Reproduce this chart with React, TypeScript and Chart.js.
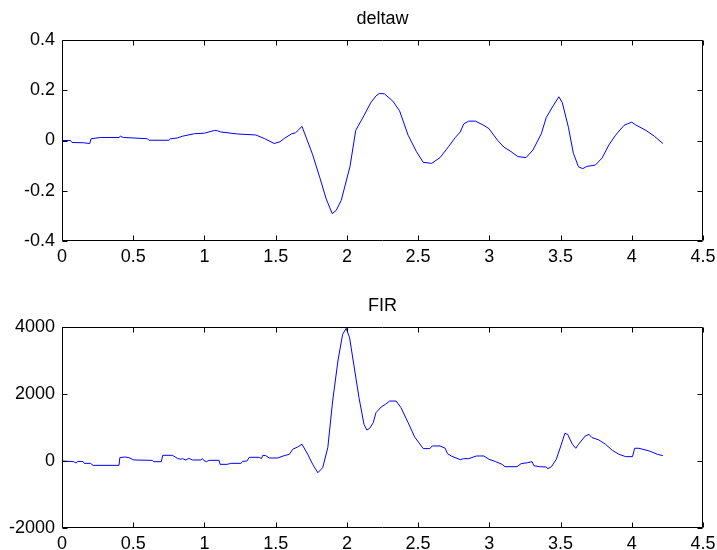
import React, { useEffect, useRef } from "react";
import { Chart, registerables } from "chart.js";

Chart.register(...registerables);

// ---- Data ----
const deltawX = [0, 0.06, 0.07, 0.15, 0.195, 0.204, 0.27, 0.4, 0.41, 0.43, 0.505, 0.6, 0.61, 0.75, 0.763, 0.81, 0.845, 0.93, 1.0, 1.07, 1.09, 1.115, 1.23, 1.36, 1.42, 1.49, 1.53, 1.56, 1.61, 1.64, 1.685, 1.76, 1.81, 1.855, 1.897, 1.925, 1.96, 2.022, 2.062, 2.12, 2.168, 2.204, 2.227, 2.263, 2.322, 2.37, 2.43, 2.488, 2.536, 2.595, 2.654, 2.713, 2.761, 2.796, 2.82, 2.855, 2.903, 2.962, 2.998, 3.057, 3.104, 3.152, 3.2, 3.258, 3.306, 3.365, 3.4, 3.448, 3.488, 3.512, 3.555, 3.59, 3.626, 3.656, 3.685, 3.744, 3.791, 3.839, 3.886, 3.945, 3.969, 4.0, 4.028, 4.1, 4.159, 4.218];
const deltawY = [0, 0, -0.008, -0.009, -0.012, 0.007, 0.012, 0.012, 0.017, 0.012, 0.01, 0.007, 0.001, 0.001, 0.007, 0.01, 0.017, 0.027, 0.029, 0.04, 0.039, 0.034, 0.026, 0.022, 0.008, -0.012, -0.005, 0.008, 0.026, 0.031, 0.056, -0.057, -0.148, -0.233, -0.291, -0.278, -0.239, -0.103, 0.04, 0.099, 0.151, 0.177, 0.187, 0.186, 0.157, 0.118, 0.021, -0.044, -0.087, -0.091, -0.068, -0.025, 0.012, 0.034, 0.066, 0.077, 0.077, 0.06, 0.047, 0.001, -0.027, -0.044, -0.064, -0.068, -0.038, 0.027, 0.092, 0.138, 0.174, 0.151, 0.053, -0.051, -0.105, -0.112, -0.103, -0.098, -0.07, -0.018, 0.021, 0.06, 0.066, 0.073, 0.062, 0.04, 0.017, -0.012];

const firX = [0, 0.082, 0.1, 0.11, 0.148, 0.157, 0.2, 0.218, 0.4, 0.406, 0.44, 0.47, 0.505, 0.634, 0.645, 0.697, 0.707, 0.775, 0.81, 0.833, 0.845, 0.87, 0.89, 0.915, 0.974, 0.986, 0.998, 1.014, 1.033, 1.103, 1.11, 1.16, 1.185, 1.256, 1.268, 1.298, 1.315, 1.385, 1.4, 1.41, 1.43, 1.455, 1.514, 1.56, 1.596, 1.62, 1.655, 1.685, 1.725, 1.76, 1.796, 1.83, 1.866, 1.9, 1.937, 1.97, 1.995, 2.019, 2.05, 2.085, 2.12, 2.14, 2.16, 2.185, 2.204, 2.24, 2.27, 2.3, 2.346, 2.38, 2.43, 2.476, 2.536, 2.583, 2.6, 2.654, 2.69, 2.706, 2.737, 2.796, 2.82, 2.855, 2.91, 2.962, 2.998, 3.045, 3.09, 3.11, 3.194, 3.223, 3.27, 3.3, 3.313, 3.353, 3.4, 3.41, 3.436, 3.47, 3.502, 3.53, 3.55, 3.583, 3.607, 3.626, 3.673, 3.7, 3.72, 3.768, 3.815, 3.863, 3.91, 3.957, 4.005, 4.02, 4.05, 4.123, 4.18, 4.218];
const firY = [0, -20, -60, -10, -20, -70, -70, -130, -130, 100, 120, 100, 30, 20, -20, -20, 170, 170, 80, 50, 70, 30, 80, 30, 30, 70, 10, -20, 20, 20, -100, -100, -70, -70, -10, 0, 110, 110, 70, 170, 160, 90, 90, 160, 200, 350, 420, 500, 200, -100, -350, -200, 400, 1790, 2985, 3780, 3960, 3680, 2835, 1890, 1095, 925, 975, 1145, 1440, 1610, 1690, 1790, 1790, 1590, 1145, 715, 370, 370, 450, 450, 380, 220, 140, 40, 70, 70, 150, 150, 50, -20, -100, -170, -170, -80, -50, -20, -140, -170, -180, -230, -170, 50, 450, 825, 795, 500, 380, 500, 745, 795, 700, 630, 500, 320, 200, 130, 130, 380, 380, 300, 200, 160];

const xMin = 0;
const xMax = 4.5;
const xStep = 0.5;
const deltawYMin = -0.4;
const deltawYMax = 0.4;
const deltawYStep = 0.2;
const firYMin = -2000;
const firYMax = 4000;
const firYStep = 2000;

const FONT = "'Liberation Sans', Arial, Helvetica, sans-serif";
const FONT_SIZE = 18;

function fmt(v: number) {
  return String(Number(Number(v).toFixed(4)));
}

const matlabBox = {
  id: "matlabBox",
  afterDraw(chart: any) {
    const { ctx, chartArea, scales } = chart;
    const { left, right, top, bottom } = chartArea;
    const L = Math.round(left) + 0.5;
    const R = Math.round(right) - 0.5;
    const T = Math.round(top) + 0.5;
    const B = Math.round(bottom) - 0.5;
    const tl = 5;
    ctx.save();
    ctx.strokeStyle = "#000";
    ctx.lineWidth = 1;
    ctx.beginPath();
    ctx.rect(L, T, R - L, B - T);
    ctx.stroke();
    ctx.beginPath();
    const xs = scales.x;
    xs.ticks.forEach((t: any) => {
      const px = Math.round(xs.getPixelForValue(t.value)) + 0.5;
      ctx.moveTo(px, B);
      ctx.lineTo(px, B - tl);
      ctx.moveTo(px, T);
      ctx.lineTo(px, T + tl);
    });
    const ys = scales.y;
    ys.ticks.forEach((t: any) => {
      const py = Math.round(ys.getPixelForValue(t.value)) + 0.5;
      ctx.moveTo(L, py);
      ctx.lineTo(L + tl, py);
      ctx.moveTo(R, py);
      ctx.lineTo(R - tl, py);
    });
    ctx.stroke();
    const title = chart.options.plugins.matlabBox?.title;
    if (title) {
      ctx.fillStyle = "#000";
      ctx.font = `${FONT_SIZE}px ${FONT}`;
      ctx.textAlign = "center";
      ctx.textBaseline = "alphabetic";
      ctx.fillText(title, (left + right) / 2, top - 16);
    }
    ctx.restore();
  },
};

function makeConfig(
  xs: number[],
  ys: number[],
  yMin: number,
  yMax: number,
  yStep: number,
  title: string,
  plotTop: number,
  axisHeight: number
): any {
  return {
    type: "line",
    data: {
      datasets: [
        {
          data: xs.map((x, i) => ({ x, y: ys[i] })),
          borderColor: "#0000ff",
          borderWidth: 1,
          pointRadius: 0,
          tension: 0,
          fill: false,
        },
      ],
    },
    options: {
      animation: false,
      responsive: false,
      maintainAspectRatio: false,
      layout: { padding: { left: 0, right: 14, top: plotTop, bottom: 0 } },
      plugins: {
        legend: { display: false },
        title: { display: false },
        tooltip: { enabled: false },
        matlabBox: { title },
      },
      scales: {
        x: {
          type: "linear",
          min: xMin,
          max: xMax,
          grid: { display: false, drawTicks: false },
          border: { display: false },
          ticks: {
            stepSize: xStep,
            padding: 5,
            color: "#000",
            font: { family: FONT, size: FONT_SIZE },
            maxRotation: 0,
            autoSkip: false,
            callback: (v: number) => fmt(v),
          },
          afterFit: (s: any) => {
            s.height = axisHeight;
            s.paddingLeft = 0;
            s.paddingRight = 0;
          },
        },
        y: {
          type: "linear",
          min: yMin,
          max: yMax,
          grid: { display: false, drawTicks: false },
          border: { display: false },
          ticks: {
            stepSize: yStep,
            padding: 7,
            color: "#000",
            font: { family: FONT, size: FONT_SIZE },
            callback: (v: number) => fmt(v),
          },
          afterFit: (s: any) => {
            s.width = 62;
            s.paddingTop = 0;
            s.paddingBottom = 0;
          },
        },
      },
    },
    plugins: [matlabBox],
  };
}

function Plot(props: { config: any; top: number; height: number }) {
  const ref = useRef<HTMLCanvasElement>(null);
  useEffect(() => {
    const chart = new Chart(ref.current as HTMLCanvasElement, props.config);
    return () => chart.destroy();
  }, []);
  return (
    <canvas
      ref={ref}
      width={717}
      height={props.height}
      style={{ position: "absolute", left: 0, top: props.top, width: 717, height: props.height }}
    />
  );
}

export default function App() {
  const topCfg = makeConfig(deltawX, deltawY, deltawYMin, deltawYMax, deltawYStep, "deltaw", 40, 275 - 241);
  const botCfg = makeConfig(firX, firY, firYMin, firYMax, firYStep, "FIR", 52, 275 - 253);
  return (
    <div style={{ position: "fixed", left: 0, top: 0, width: 717, height: 550, background: "#fff" }}>
      <Plot config={topCfg} top={0} height={275} />
      <Plot config={botCfg} top={275} height={275} />
    </div>
  );
}
